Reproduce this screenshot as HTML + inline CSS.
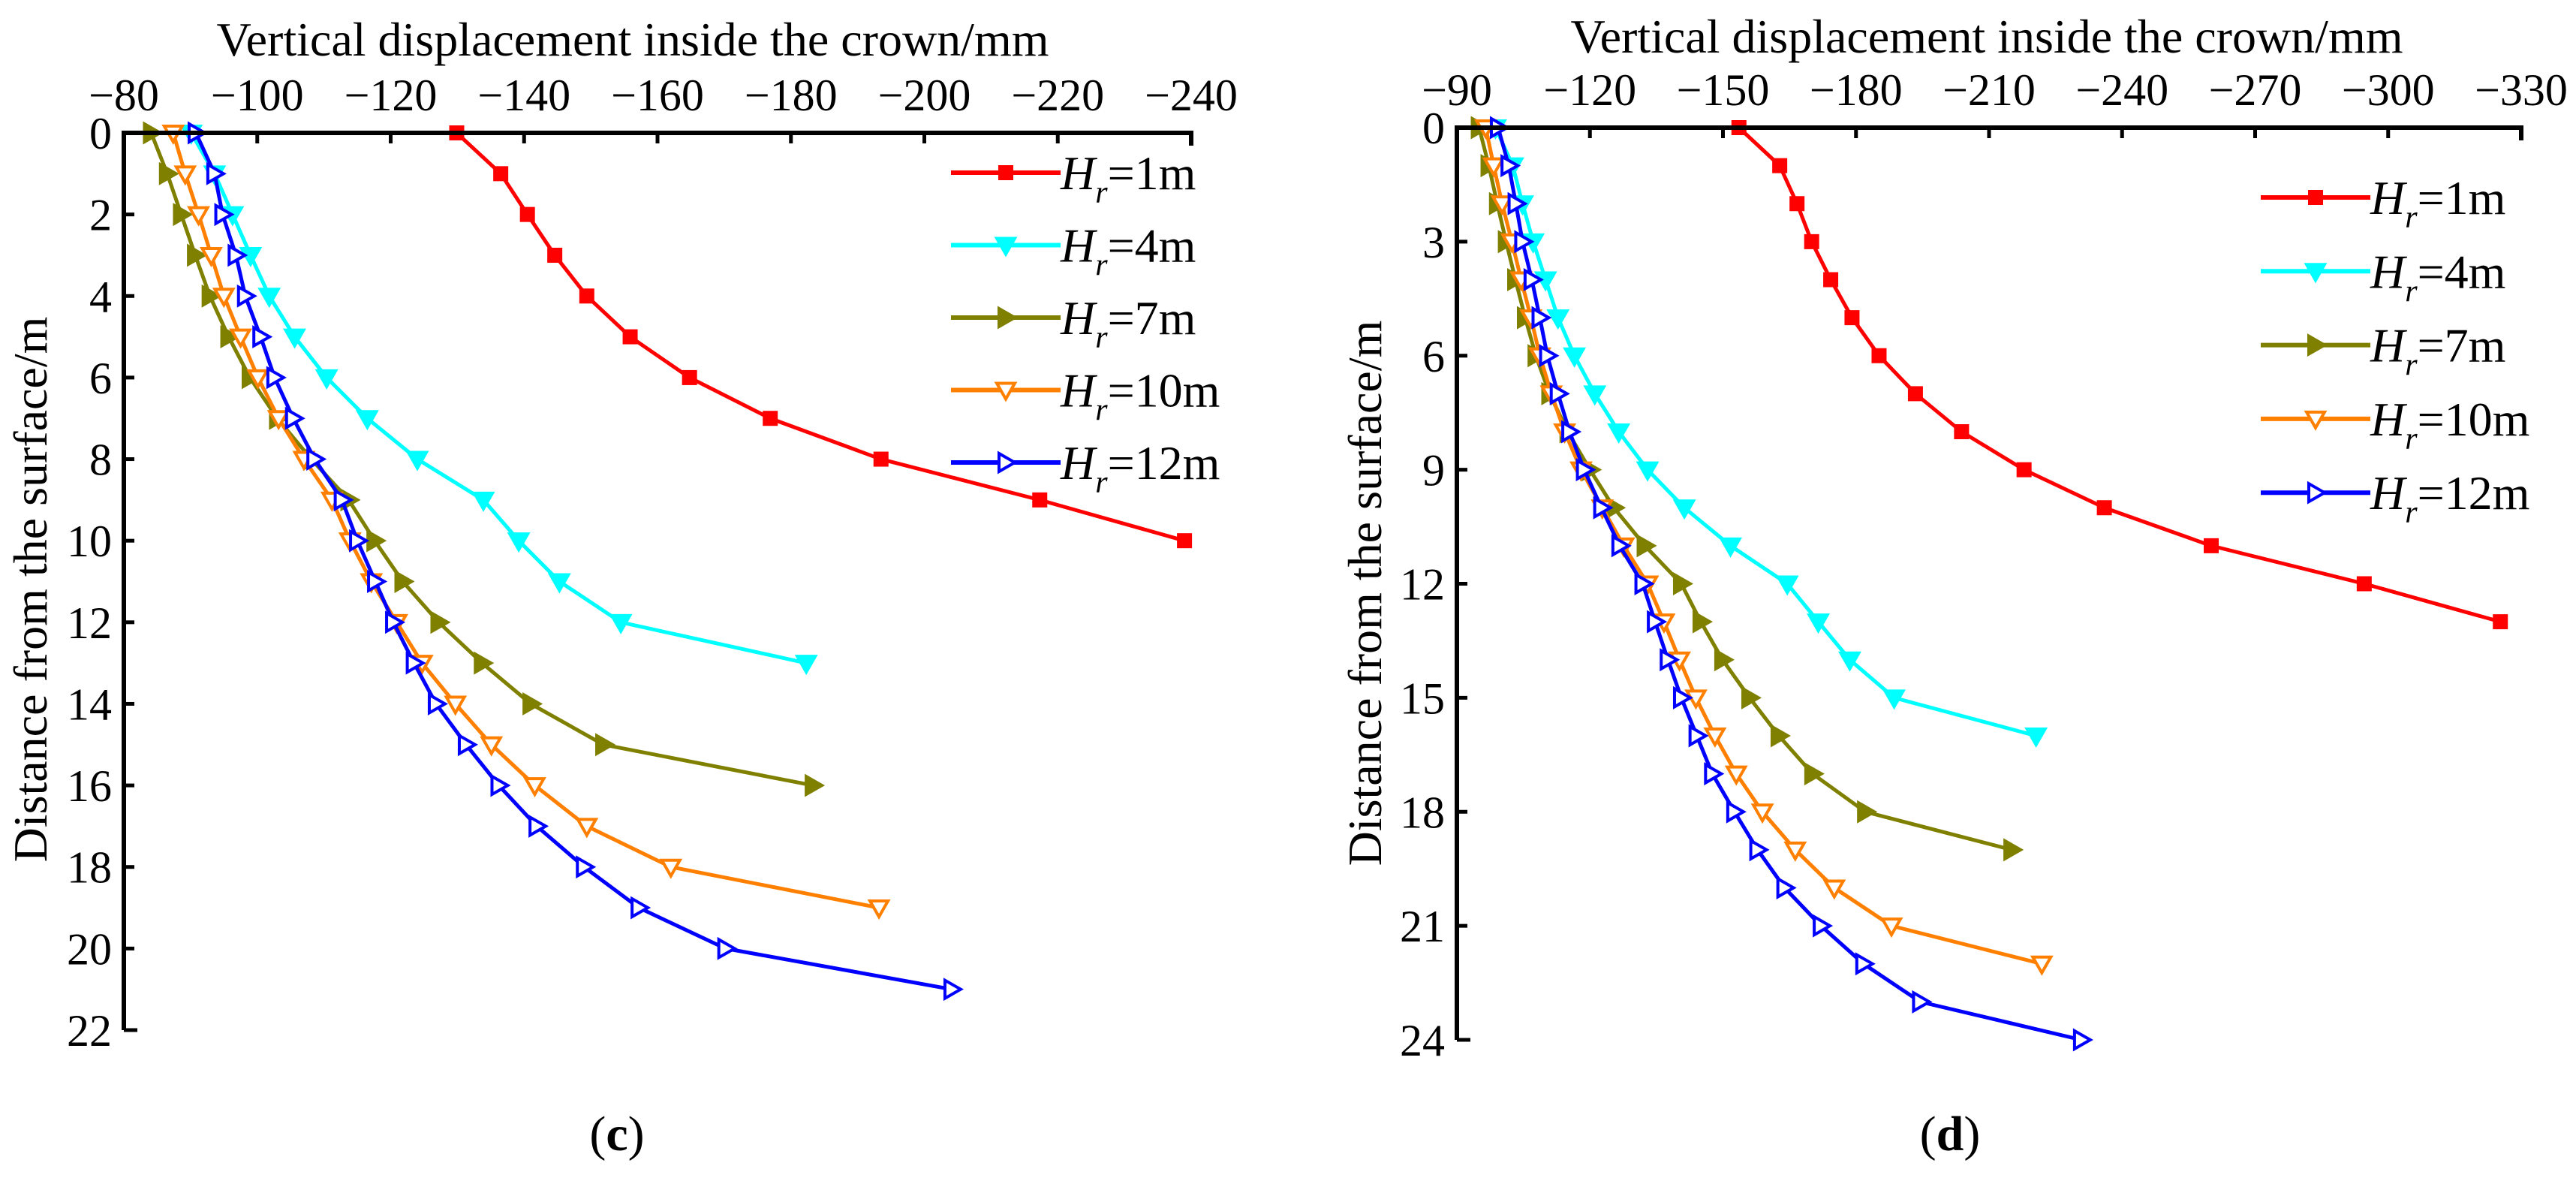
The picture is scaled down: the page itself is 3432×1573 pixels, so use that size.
<!DOCTYPE html>
<html><head><meta charset="utf-8"><style>
html,body{margin:0;padding:0;background:#fff;}
svg, svg text{font-family:"Liberation Serif","DejaVu Serif",serif;}
</style></head><body>
<svg id="fig" width="3432" height="1568" xmlns="http://www.w3.org/2000/svg" font-family="Liberation Serif, serif"></svg>
<script>
// ---- Panel (c) data (depth index = distance from surface in m) ----
const cH1 = [129.9,136.5,140.5,144.6,149.4,155.9,164.8,176.9,193.5,217.3,239];
const cH4 = [90.1,93.6,96.3,99,101.8,105.6,110.4,116.5,124,133.9,139.2,145.3,154.5,182.3];
const cH7 = [84.1,86.5,88.6,90.7,92.9,95.7,98.9,103,108.1,113.7,117.6,121.8,127.2,133.7,141,151.9,183.3];
const cH10 = [87.4,89.2,91.2,93.1,95,97.5,100.1,103.2,107,111.2,113.9,117.1,120.9,124.7,129.7,135.1,141.6,149.4,162,193.2];
const cH12 = [90.8,93.6,94.8,96.8,98.2,100.5,102.6,105.4,108.6,112.7,115,117.7,120.4,123.5,126.8,131.3,136.2,141.9,149,157.2,170.2,204.1];
const cXTicks = [-80,-100,-120,-140,-160,-180,-200,-220,-240];
const cYTicks = [0,2,4,6,8,10,12,14,16,18,20,22];
// ---- Panel (d) data ----
const dH1 = [153.6,162.8,166.7,170,174.3,179.1,185.2,193.4,203.8,217.9,236,260.1,294.6,325.3];
const dH4 = [98.7,102.6,104.8,107.2,110,112.8,116.5,121.1,126.5,133,141.3,151.7,164.5,171.5,178.6,188.6,220.6];
const dH7 = [95,97.2,99.1,101.1,103.2,105.4,107.8,110.9,115,120,125.4,132.4,140.6,145,149.9,156,162.6,170.2,182.1,215.1];
const dH10 = [96.5,98.3,100.2,102.4,104.5,106.7,108.7,111.3,114.3,118,122.8,127.6,133,136.7,140.2,143.9,148.2,153,158.9,166.3,175.1,188,221.9];
const dH12 = [99.3,101.7,103.3,104.8,106.9,108.7,110.4,112.8,115.4,118.7,122.6,126.7,131.9,134.7,137.6,140.6,144.1,147.6,152.6,157.8,163.9,172.1,181.7,194.5,230.8];
const dXTicks = [-90,-120,-150,-180,-210,-240,-270,-300,-330];
const dYTicks = [0,3,6,9,12,15,18,21,24];
const legendLabels = ['1m','4m','7m','10m','12m'];

const NS='http://www.w3.org/2000/svg';
const FONT='"Liberation Serif", "DejaVu Serif", serif';
const svg=document.getElementById('fig');
function mk(tag,attrs,parent){const e=document.createElementNS(NS,tag);for(const k in attrs)e.setAttribute(k,attrs[k]);if(tag==='text')e.style.fontFamily=FONT;(parent||svg).appendChild(e);return e;}

const styles=[
 {c:'#ff0000',m:'square',fill:'#ff0000'},
 {c:'#00ffff',m:'down',fill:'#00ffff'},
 {c:'#808000',m:'right',fill:'#808000'},
 {c:'#ff8000',m:'down',fill:'#ffffff'},
 {c:'#0000ff',m:'right',fill:'#ffffff'}
];
function marker(g,x,y,st){
  const s=10;let e;
  if(st.m==='square') e=mk('rect',{x:x-s,y:y-s,width:2*s,height:2*s,fill:st.fill},g);
  else if(st.m==='down') e=mk('polygon',{points:`${x-12},${y-9} ${x+12},${y-9} ${x},${y+12}`,fill:st.fill,stroke:st.c,'stroke-width':4},g);
  else e=mk('polygon',{points:`${x-9},${y-12} ${x-9},${y+12} ${x+12},${y}`,fill:st.fill,stroke:st.c,'stroke-width':4},g);
  
  
}

function panel(o){
  const g=mk('g',{});
  
  
  const xs=v=>o.x0+(Math.abs(v)-o.xmin)/(o.xmax-o.xmin)*(o.x1-o.x0);
  const ys=d=>o.y0+d/o.ymax*(o.y1-o.y0);
  o.series.forEach((vals,i)=>{
    const st=styles[i];
    const sg=mk('g',{},g);
    
    
    const pts=vals.map((v,d)=>xs(v)+','+ys(d)).join(' ');
    const pl=mk('polyline',{points:pts,fill:'none',stroke:st.c,'stroke-width':5,'stroke-linejoin':'round'},sg);
    
    
    vals.forEach((v,d)=>marker(sg,xs(v),ys(d),st));
  });
  const ax=mk('path',{d:`M${o.x0},${o.y1} L${o.x0},${o.y0} L${o.x1},${o.y0} L${o.x1},${o.y0+17}`,fill:'none',stroke:'#000','stroke-width':6},g);
  
  
  const bt=mk('line',{x1:o.x0,y1:o.y1,x2:o.x0+18,y2:o.y1,stroke:'#000','stroke-width':5},g);
  
  
  o.xticks.forEach(t=>{
    const x=xs(t);
    const tk=mk('line',{x1:x,y1:o.y0,x2:x,y2:o.y0+14,stroke:'#000','stroke-width':5},g);
    
    
    const tx=mk('text',{x:x,y:o.y0-30,'font-size':60,'text-anchor':'middle'},g);
    tx.textContent='\u2212'+Math.abs(t);
    
    
  });
  o.yticks.forEach(t=>{
    const y=ys(t);
    if(t>0&&t<o.ymax){const tk=mk('line',{x1:o.x0,y1:y,x2:o.x0+14,y2:y,stroke:'#000','stroke-width':5},g);
    
    }
    const tx=mk('text',{x:o.x0-16,y:y+21,'font-size':60,'text-anchor':'end'},g);
    tx.textContent=t;
    
    
  });
  const xt=mk('text',{x:o.tx,y:o.ty,'font-size':64,'text-anchor':'middle'},g);
  xt.textContent='Vertical displacement inside the crown/mm';
  
  
  const yt=mk('text',{x:0,y:0,'font-size':64,'text-anchor':'middle',transform:`translate(${o.yx},${o.yy}) rotate(-90)`},g);
  yt.textContent='Distance from the surface/m';
  
  
  legendLabels.forEach((lab,i)=>{
    const st=styles[i];const y=o.ly+i*o.ld;
    const lg=mk('g',{},g);
    
    
    mk('line',{x1:o.lx,y1:y,x2:o.lx+146,y2:y,stroke:st.c,'stroke-width':6},lg);
    marker(lg,o.lx+73,y,st);
    const t=mk('text',{x:o.lx+146,y:y+22,'font-size':64},lg);
    const ts1=mk('tspan',{'font-style':'italic'},t);ts1.textContent='H';
    const ts2=mk('tspan',{'font-style':'italic','font-size':42,dy:18},t);ts2.textContent='r';
    const ts3=mk('tspan',{dy:-18},t);ts3.textContent='='+lab;
  });
  const cap=mk('text',{x:o.cx,y:1532,'font-size':66,'text-anchor':'middle'},g);
  cap.innerHTML='(<tspan font-weight="bold">'+o.cap+'</tspan>)';
  
  
}

panel({name:'chart-c',x0:165,x1:1587,y0:177,y1:1372,xmin:80,xmax:240,ymax:22,
  series:[cH1,cH4,cH7,cH10,cH12],xticks:cXTicks,yticks:cYTicks,
  tx:843,ty:74,yx:62,yy:785,lx:1267,ly:230,ld:96.5,cx:822,cap:'c'});
panel({name:'chart-d',x0:1941,x1:3359,y0:170,y1:1385,xmin:90,xmax:330,ymax:24,
  series:[dH1,dH4,dH7,dH10,dH12],xticks:dXTicks,yticks:dYTicks,
  tx:2647,ty:70,yx:1840,yy:790,lx:3012,ly:263,ld:98.3,cx:2598,cap:'d'});
</script>
</body></html>
